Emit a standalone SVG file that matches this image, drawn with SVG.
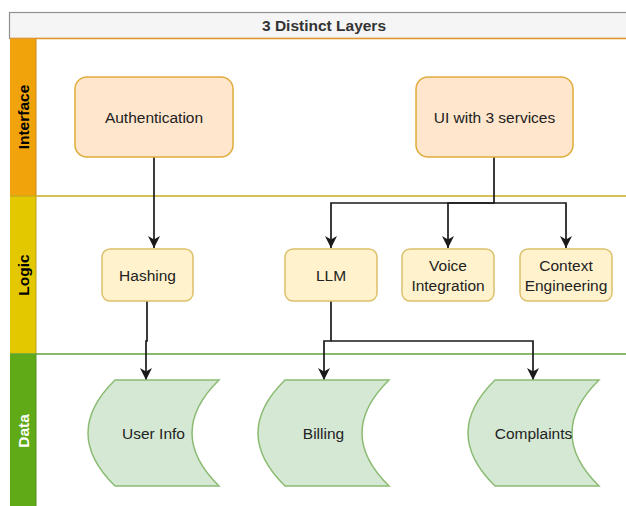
<svg xmlns="http://www.w3.org/2000/svg" width="626" height="506" viewBox="0 0 626 506">
  <style>
    .node-text { font-family: "Liberation Sans", Arial, sans-serif; font-size: 15.5px; fill: #222222; text-anchor: middle; dominant-baseline: central; }
    .lane-text { font-family: "Liberation Sans", Arial, sans-serif; font-size: 15.5px; font-weight: bold; text-anchor: middle; dominant-baseline: central; }
    .title { font-family: "Liberation Sans", Arial, sans-serif; font-size: 15.5px; font-weight: bold; fill: #333333; text-anchor: middle; dominant-baseline: central; }
    .iface { fill: #ffe6cc; stroke: #e0ac3a; stroke-width: 1.5; }
    .logic { fill: #fff2cc; stroke: #dcc06a; stroke-width: 1.5; }
    .data { fill: #d5e8d4; stroke: #8bbb72; stroke-width: 1.5; }
    .edge { fill: none; stroke: #1a1a1a; stroke-width: 1.7; }
  </style>
  <defs>
    <marker id="arrow" viewBox="0 0 12 12" refX="12" refY="6" markerWidth="12" markerHeight="12" markerUnits="userSpaceOnUse" orient="auto">
      <path d="M0,0 L12,6 L0,12 L3.5,6 Z" fill="#1a1a1a"/>
    </marker>
  </defs>

  <rect width="626" height="506" fill="#ffffff"/>

  <!-- pool header -->
  <g id="pool">
    <rect x="9.5" y="12.5" width="640" height="26" fill="#f5f5f5" stroke="#8f8f8f" stroke-width="1.2"/>
    <text class="title" x="324" y="25">3 Distinct Layers</text>
  </g>

  <!-- swimlanes -->
  <g id="lane-interface">
    <rect x="36" y="38" width="620" height="158" fill="#ffffff"/>
    <rect x="10" y="38" width="26" height="158" fill="#f0a30a"/>
    <line x1="36" y1="38" x2="36" y2="196" stroke="#c98a1a" stroke-width="1"/>
    <line x1="10" y1="38.5" x2="640" y2="38.5" stroke="#e3972a" stroke-width="1.5"/>
    <text class="lane-text" fill="#000000" transform="translate(23 117) rotate(-90)">Interface</text>
  </g>
  <g id="lane-logic">
    <rect x="10" y="196" width="26" height="158" fill="#e3c800"/>
    <line x1="36" y1="196" x2="36" y2="354" stroke="#b8a01a" stroke-width="1"/>
    <line x1="10" y1="196" x2="640" y2="196" stroke="#c9ab1e" stroke-width="1.5"/>
    <text class="lane-text" fill="#000000" transform="translate(23 275) rotate(-90)">Logic</text>
  </g>
  <g id="lane-data">
    <rect x="10" y="354" width="26" height="160" fill="#60a917"/>
    <line x1="36" y1="354" x2="36" y2="514" stroke="#4f8f20" stroke-width="1"/>
    <line x1="10" y1="354" x2="640" y2="354" stroke="#5fa53a" stroke-width="1.5"/>
    <text class="lane-text" fill="#ffffff" transform="translate(23 431) rotate(-90)">Data</text>
  </g>

  <!-- connectors -->
  <g id="connectors">
    <path class="edge" d="M154,157 V248" marker-end="url(#arrow)"/>
    <path class="edge" d="M494,157 V203 H331 V248" marker-end="url(#arrow)"/>
    <path class="edge" d="M494,203 H448 V248" marker-end="url(#arrow)"/>
    <path class="edge" d="M494,203 H566 V248" marker-end="url(#arrow)"/>
    <path class="edge" d="M147,301 V341 H146 V380" marker-end="url(#arrow)"/>
    <path class="edge" d="M331,301 V341 H324 V380" marker-end="url(#arrow)"/>
    <path class="edge" d="M331,341 H533 V380" marker-end="url(#arrow)"/>
  </g>

  <!-- interface nodes -->
  <g id="authentication">
    <rect class="iface" x="75" y="77" width="158" height="80" rx="12"/>
    <text class="node-text" x="154" y="117">Authentication</text>
  </g>
  <g id="ui-services">
    <rect class="iface" x="416" y="77" width="157" height="80" rx="12"/>
    <text class="node-text" x="494.5" y="117">UI with 3 services</text>
  </g>

  <!-- logic nodes -->
  <g id="hashing">
    <rect class="logic" x="102" y="249" width="91" height="52" rx="8"/>
    <text class="node-text" x="147.5" y="275">Hashing</text>
  </g>
  <g id="llm">
    <rect class="logic" x="285" y="249" width="92" height="52" rx="8"/>
    <text class="node-text" x="331" y="275">LLM</text>
  </g>
  <g id="voice-integration">
    <rect class="logic" x="402" y="249" width="92" height="52" rx="8"/>
    <text class="node-text" x="448" y="265">Voice</text>
    <text class="node-text" x="448" y="285">Integration</text>
  </g>
  <g id="context-engineering">
    <rect class="logic" x="520" y="249" width="92" height="52" rx="8"/>
    <text class="node-text" x="566" y="265">Context</text>
    <text class="node-text" x="566" y="285">Engineering</text>
  </g>

  <!-- data stores -->
  <g id="user-info">
    <path class="data" d="M115,380 H219 Q165,433 219,486 H115 Q61,433 115,380 Z"/>
    <text class="node-text" x="153.5" y="433">User Info</text>
  </g>
  <g id="billing">
    <path class="data" d="M285,380 H389 Q335,433 389,486 H285 Q231,433 285,380 Z"/>
    <text class="node-text" x="323.5" y="433">Billing</text>
  </g>
  <g id="complaints">
    <path class="data" d="M495,380 H599 Q545,433 599,486 H495 Q441,433 495,380 Z"/>
    <text class="node-text" x="533.5" y="433">Complaints</text>
  </g>
</svg>
